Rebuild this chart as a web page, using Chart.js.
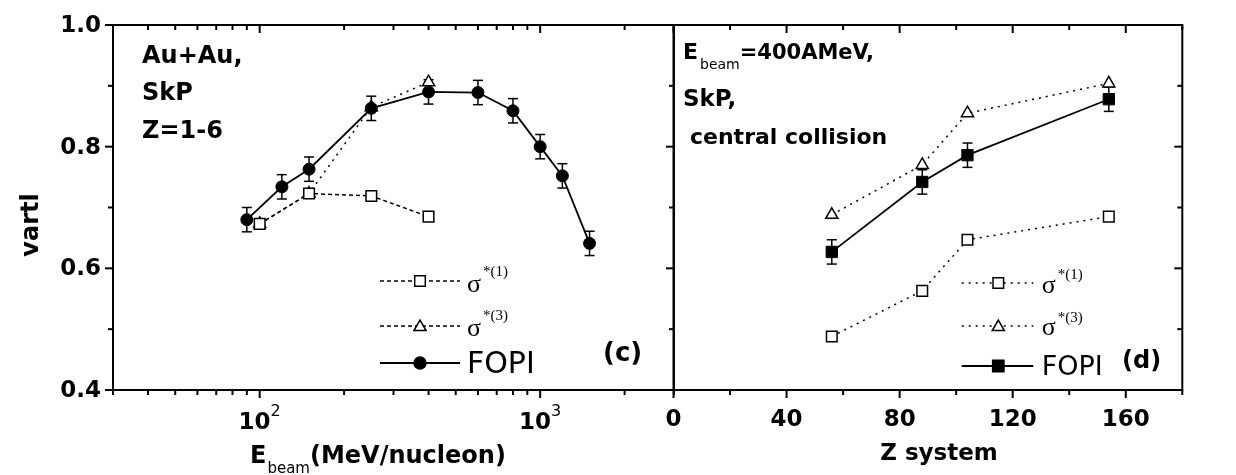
<!DOCTYPE html>
<html><head><meta charset="utf-8">
<script src="https://cdn.jsdelivr.net/npm/chart.js@4.4.1/dist/chart.umd.min.js"></script>
<style>
html,body{margin:0;padding:0;background:#fff;width:1236px;height:475px;overflow:hidden;}
#wrapA{position:absolute;left:0;top:0;width:700px;height:475px;}
#wrapB{position:absolute;left:620px;top:0;width:616px;height:475px;}
</style></head><body>
<div id="wrapA"><canvas id="cA"></canvas></div>
<div id="wrapB"><canvas id="cB"></canvas></div>
<script>
// ---------- data: panel (c), vartl vs beam energy ----------
const energyFOPI = [90, 120, 150, 250, 400, 600, 800, 1000, 1200, 1500];
const vartlFOPI  = [0.680, 0.734, 0.763, 0.863, 0.890, 0.889, 0.859, 0.800, 0.752, 0.641];
const errFOPI    = [0.02, 0.02, 0.02, 0.02, 0.02, 0.02, 0.02, 0.02, 0.02, 0.02];
const energySigma = [100, 150, 250, 400];
const vartlSigma1 = [0.673, 0.723, 0.719, 0.685];
const vartlSigma3 = [0.673, 0.723, 0.865, 0.906];

// ---------- data: panel (d), vartl vs Z system ----------
const zSystem   = [56, 88, 104, 154];
const zFOPI     = [0.627, 0.742, 0.786, 0.878];
const zErrFOPI  = [0.02, 0.02, 0.02, 0.02];
const zSigma1   = [0.488, 0.563, 0.647, 0.685];
const zSigma3   = [0.688, 0.770, 0.855, 0.904];

// ---------- ticks / labels ----------
const yMajorTicks = [0.4, 0.6, 0.8, 1.0];
const yTickLabels = ['0.4', '0.6', '0.8', '1.0'];
const yMinorTicks = [0.5, 0.7, 0.9];
const energyMajorTicks = [100, 1000];
const energyTickBase = ['10', '10'];
const energyTickExp = ['2', '3'];
const energyMinorTicks = [30, 40, 50, 60, 70, 80, 90, 200, 300, 400, 500, 600, 700, 800, 900, 2000, 3000];
const zMajorTicks = [0, 40, 80, 120, 160];
const zTickLabels = ['0', '40', '80', '120', '160'];
const zMinorTicks = [20, 60, 100, 140, 180];

const OFFB = 620;
const SANS = '"DejaVu Sans", sans-serif';
const SERIF = '"Liberation Serif", "DejaVu Serif", serif';

function pts(xs, ys) { return xs.map((x, i) => ({ x: x, y: ys[i] })); }

function line(ctx, x1, y1, x2, y2, w, dash) {
  ctx.save();
  ctx.strokeStyle = '#000';
  ctx.lineWidth = w || 2;
  ctx.setLineDash(dash || []);
  ctx.beginPath(); ctx.moveTo(x1, y1); ctx.lineTo(x2, y2); ctx.stroke();
  ctx.restore();
}
function text(ctx, s, x, y, font, align, base) {
  ctx.save();
  ctx.fillStyle = '#000';
  ctx.font = font;
  ctx.textAlign = align || 'left';
  ctx.textBaseline = base || 'alphabetic';
  ctx.fillText(s, x, y);
  ctx.restore();
}
function rich(ctx, parts, x, y) {
  let cx = x;
  parts.forEach(p => {
    ctx.save();
    ctx.font = p[1];
    cx += (p[3] || 0);
    ctx.fillStyle = '#000';
    ctx.textBaseline = 'alphabetic';
    ctx.textAlign = 'left';
    ctx.fillText(p[0], cx, y + (p[2] || 0));
    cx += ctx.measureText(p[0]).width;
    ctx.restore();
  });
}
function marker(ctx, style, r, x, y, fill) {
  ctx.save();
  ctx.strokeStyle = '#000';
  ctx.fillStyle = fill;
  ctx.lineWidth = 1.5;
  ctx.setLineDash([]);
  Chart.helpers.drawPoint(ctx, { pointStyle: style, radius: r, rotation: 0, borderWidth: 1.5 }, x, y);
  ctx.restore();
}
function errorBars(chart, dsIndex, errs) {
  const ctx = chart.ctx, ys = chart.scales.y;
  const meta = chart.getDatasetMeta(dsIndex);
  const data = chart.data.datasets[dsIndex].data;
  meta.data.forEach((el, i) => {
    const v = data[i].y;
    const top = ys.getPixelForValue(v + errs[i]);
    const bot = ys.getPixelForValue(v - errs[i]);
    line(ctx, el.x, top, el.x, bot, 1.5);
    line(ctx, el.x - 5, top, el.x + 5, top, 1.5);
    line(ctx, el.x - 5, bot, el.x + 5, bot, 1.5);
  });
}

// ---------- panel (c) ----------
const pluginA = {
  id: 'pluginA',
  beforeDatasetsDraw(chart) { errorBars(chart, 0, errFOPI); },
  afterDraw(chart) {
    const ctx = chart.ctx, xs = chart.scales.x, ys = chart.scales.y, a = chart.chartArea;
    ctx.save(); ctx.strokeStyle = '#000'; ctx.lineWidth = 2; ctx.setLineDash([]);
    ctx.strokeRect(a.left, a.top, a.right - a.left, a.bottom - a.top); ctx.restore();
    yMajorTicks.forEach((v, i) => {
      const y = ys.getPixelForValue(v);
      line(ctx, a.left - 8, y, a.left, y, 2);
      line(ctx, a.right - 8, y, a.right, y, 2);
      text(ctx, yTickLabels[i], a.left - 12, y + 1, 'bold 23px ' + SANS, 'right', 'middle');
    });
    yMinorTicks.forEach(v => {
      const y = ys.getPixelForValue(v);
      line(ctx, a.left - 5, y, a.left, y, 2);
      line(ctx, a.right - 5, y, a.right, y, 2);
    });
    energyMajorTicks.forEach((v, i) => {
      const x = xs.getPixelForValue(v);
      line(ctx, x, a.bottom, x, a.bottom + 8, 2);
      line(ctx, x, a.top, x, a.top + 8, 2);
      ctx.save();
      ctx.font = 'bold 23px ' + SANS; const wb = ctx.measureText(energyTickBase[i]).width;
      ctx.font = '16px ' + SANS; const we = ctx.measureText(energyTickExp[i]).width;
      ctx.restore();
      const sx = x - (wb + we) / 2;
      text(ctx, energyTickBase[i], sx, 429, 'bold 23px ' + SANS);
      text(ctx, energyTickExp[i], sx + wb, 416, '16px ' + SANS);
    });
    energyMinorTicks.forEach(v => {
      const x = xs.getPixelForValue(v);
      line(ctx, x, a.bottom, x, a.bottom + 5, 2);
      line(ctx, x, a.top, x, a.top + 5, 2);
    });
    ctx.save();
    ctx.translate(38, 225); ctx.rotate(-Math.PI / 2);
    text(ctx, 'vartl', 0, 0, 'bold 24px ' + SANS, 'center', 'alphabetic');
    ctx.restore();
    rich(ctx, [['E', 'bold 24px ' + SANS, 0], ['beam', '15px ' + SANS, 10, 1], ['(MeV/nucleon)', 'bold 24px ' + SANS, 0]], 250, 463);
    text(ctx, 'Au+Au,', 142, 63, 'bold 24px ' + SANS);
    text(ctx, 'SkP', 142, 100, 'bold 24px ' + SANS);
    text(ctx, 'Z=1-6', 142, 138, 'bold 24px ' + SANS);
    text(ctx, '(c)', 603, 361, 'bold 26px ' + SANS);
    line(ctx, 380, 281, 460, 281, 1.5, [4, 3]);
    marker(ctx, 'rect', 7.5, 420, 281, '#fff');
    rich(ctx, [['σ', '26px ' + SERIF, 0], ['*(1)', '15px ' + SERIF, -16, 2]], 467, 292);
    line(ctx, 380, 326, 460, 326, 1.5, [4, 3]);
    marker(ctx, 'triangle', 7, 420, 327, '#fff');
    rich(ctx, [['σ', '26px ' + SERIF, 0], ['*(3)', '15px ' + SERIF, -16, 2]], 467, 336);
    line(ctx, 380, 363, 460, 363, 1.8);
    marker(ctx, 'circle', 6, 420, 363, '#000');
    text(ctx, 'FOPI', 467, 373, '30px ' + SANS);
  }
};

new Chart(document.getElementById('cA'), {
  type: 'scatter',
  data: {
    datasets: [
      { label: 'FOPI', data: pts(energyFOPI, vartlFOPI), showLine: true, borderColor: '#000', borderWidth: 1.8,
        pointStyle: 'circle', pointRadius: 6, pointBackgroundColor: '#000', pointBorderColor: '#000', pointBorderWidth: 1 },
      { label: 'σ*(1)', data: pts(energySigma, vartlSigma1), showLine: true, borderColor: '#000', borderWidth: 1.5, borderDash: [4, 3],
        pointStyle: 'rect', pointRadius: 7.5, pointBackgroundColor: '#fff', pointBorderColor: '#000', pointBorderWidth: 1.5 },
      { label: 'σ*(3)', data: pts(energySigma, vartlSigma3), showLine: true, borderColor: '#000', borderWidth: 1.5, borderDash: [2, 5],
        pointStyle: 'triangle', pointRadius: 7, pointBackgroundColor: '#fff', pointBorderColor: '#000', pointBorderWidth: 1.5 }
    ]
  },
  options: {
    responsive: true, maintainAspectRatio: false, animation: false,
    layout: { padding: { left: 113, top: 25, right: 26, bottom: 85 } },
    plugins: { legend: { display: false }, tooltip: { enabled: false } },
    scales: {
      x: { type: 'logarithmic', min: 30, max: 3000, display: false },
      y: { type: 'linear', min: 0.4, max: 1.0, display: false }
    }
  },
  plugins: [pluginA]
});

// ---------- panel (d) ----------
const pluginB = {
  id: 'pluginB',
  beforeDatasetsDraw(chart) { errorBars(chart, 1, zErrFOPI); },
  afterDraw(chart) {
    const ctx = chart.ctx, xs = chart.scales.x, ys = chart.scales.y, a = chart.chartArea;
    ctx.save(); ctx.strokeStyle = '#000'; ctx.lineWidth = 2; ctx.setLineDash([]);
    ctx.strokeRect(a.left, a.top, a.right - a.left, a.bottom - a.top); ctx.restore();
    yMajorTicks.forEach(v => { const y = ys.getPixelForValue(v); line(ctx, a.right - 8, y, a.right, y, 2); });
    yMinorTicks.forEach(v => { const y = ys.getPixelForValue(v); line(ctx, a.right - 5, y, a.right, y, 2); });
    zMajorTicks.forEach((v, i) => {
      const x = xs.getPixelForValue(v);
      line(ctx, x, a.bottom, x, a.bottom + 8, 2);
      line(ctx, x, a.top, x, a.top + 8, 2);
      text(ctx, zTickLabels[i], x, 426, 'bold 23px ' + SANS, 'center');
    });
    zMinorTicks.forEach(v => {
      const x = xs.getPixelForValue(v);
      line(ctx, x, a.bottom, x, a.bottom + 5, 2);
      line(ctx, x, a.top, x, a.top + 5, 2);
    });
    text(ctx, 'Z system', 939 - OFFB, 460, 'bold 23px ' + SANS, 'center');
    rich(ctx, [['E', 'bold 22px ' + SANS, 0], ['beam', '14px ' + SANS, 10, 2], ['=400AMeV,', 'bold 21px ' + SANS, 0]], 683 - OFFB, 59);
    text(ctx, 'SkP,', 683 - OFFB, 106, 'bold 23px ' + SANS);
    text(ctx, 'central collision', 690 - OFFB, 144, 'bold 22px ' + SANS);
    text(ctx, '(d)', 1122 - OFFB, 368, 'bold 24px ' + SANS);
    const lx1 = 961.7 - OFFB, lx2 = 1033.3 - OFFB, mx = 998.3 - OFFB, tx = 1041.7 - OFFB;
    line(ctx, lx1, 283, lx2, 283, 1.5, [2, 5]);
    marker(ctx, 'rect', 7.5, mx, 283, '#fff');
    rich(ctx, [['σ', '26px ' + SERIF, 0], ['*(1)', '15px ' + SERIF, -14, 2]], tx, 293);
    line(ctx, lx1, 326, lx2, 326, 1.5, [2, 5]);
    marker(ctx, 'triangle', 7, mx, 327, '#fff');
    rich(ctx, [['σ', '26px ' + SERIF, 0], ['*(3)', '15px ' + SERIF, -13, 2]], tx, 335);
    line(ctx, lx1, 366, lx2, 366, 1.8);
    marker(ctx, 'rect', 8, mx, 366, '#000');
    text(ctx, 'FOPI', tx, 375, '27px ' + SANS);
  }
};

new Chart(document.getElementById('cB'), {
  type: 'scatter',
  data: {
    datasets: [
      { label: 'σ*(1)', data: pts(zSystem, zSigma1), showLine: true, borderColor: '#000', borderWidth: 1.5, borderDash: [2, 5],
        pointStyle: 'rect', pointRadius: 7.5, pointBackgroundColor: '#fff', pointBorderColor: '#000', pointBorderWidth: 1.5 },
      { label: 'FOPI', data: pts(zSystem, zFOPI), showLine: true, borderColor: '#000', borderWidth: 1.8,
        pointStyle: 'rect', pointRadius: 8, pointBackgroundColor: '#000', pointBorderColor: '#000', pointBorderWidth: 1 },
      { label: 'σ*(3)', data: pts(zSystem, zSigma3), showLine: true, borderColor: '#000', borderWidth: 1.5, borderDash: [2, 5],
        pointStyle: 'triangle', pointRadius: 7, pointBackgroundColor: '#fff', pointBorderColor: '#000', pointBorderWidth: 1.5 }
    ]
  },
  options: {
    responsive: true, maintainAspectRatio: false, animation: false,
    layout: { padding: { left: 673.5 - OFFB, top: 25, right: 1236 - 1182.3, bottom: 85 } },
    plugins: { legend: { display: false }, tooltip: { enabled: false } },
    scales: {
      x: { type: 'linear', min: 0, max: 180, display: false },
      y: { type: 'linear', min: 0.4, max: 1.0, display: false }
    }
  },
  plugins: [pluginB]
});
</script>
</body></html>
